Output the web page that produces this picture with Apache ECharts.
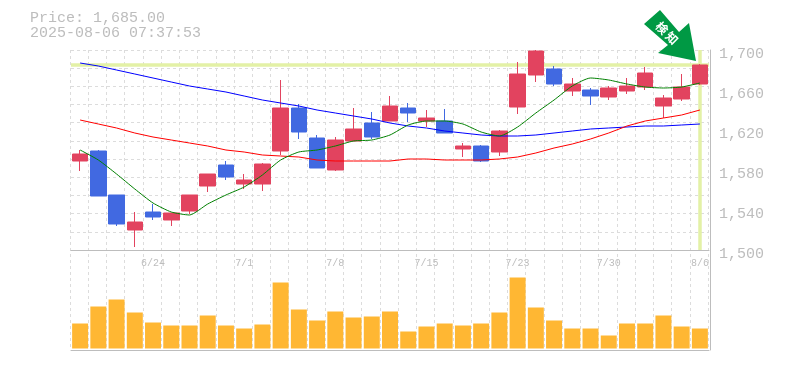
<!DOCTYPE html>
<html><head><meta charset="utf-8">
<style>html,body{margin:0;padding:0;background:#fff}#c{width:785px;height:370px}</style>
<script src="https://cdn.jsdelivr.net/npm/echarts@6/dist/echarts.min.js"></script>
</head><body><div id="c"></div>
<script>
const dates=['6/18','6/19','6/20','6/23','6/24','6/25','6/26','6/27','6/30','7/1','7/2','7/3','7/4','7/7','7/8','7/9','7/10','7/11','7/14','7/15','7/16','7/17','7/18','7/22','7/23','7/24','7/25','7/28','7/29','7/30','7/31','8/1','8/4','8/5','8/6'];
const opens=[1589,1599,1555,1520,1538,1530,1539,1564,1585,1566,1566,1599,1642,1612,1580,1609,1627,1629,1642,1629,1629,1601,1604,1598,1643,1675,1681,1659,1660,1653,1659,1663,1644,1651,1666];
const closes=[1596,1554,1526,1528,1533,1537,1555,1576,1573,1570,1586,1642,1618,1582,1610,1621,1613,1644,1637,1632,1617,1604,1589,1619,1676,1699,1666,1666,1654,1662,1664,1677,1652,1663,1685];
const lows=[1579,1554,1524,1503,1530,1524,1536,1558,1570,1561,1559,1595,1611,1582,1579,1609,1611,1629,1628,1623,1617,1593,1588,1594,1636,1668,1664,1654,1645,1650,1656,1660,1632,1649,1665];
const highs=[1600,1600,1555,1538,1546,1537,1555,1576,1589,1576,1587,1670,1646,1615,1613,1642,1638,1654,1647,1640,1641,1607,1605,1620,1688,1700,1684,1672,1662,1664,1672,1683,1655,1676,1686];
const maShort=[1600,1590,1576,1561,1547,1538,1535,1546,1555,1563,1575,1590,1598,1600,1604,1609,1610,1615,1625,1629,1629,1626,1618,1614,1623,1637,1650,1664,1672,1670,1666,1663,1662,1663,1667];
const maMid=[1630,1626,1622,1617,1613,1610,1607,1604,1600,1598,1595,1594,1593,1590,1589,1589,1589,1589,1591,1591,1590,1590,1590,1591,1593,1597,1602,1606,1611,1617,1624,1629,1632,1635,1640];
const maLong=[1687,1684,1680,1676,1672,1668,1664,1661,1658,1654,1650,1647,1644,1640,1637,1634,1631,1627,1624,1622,1619,1617,1615,1614,1614,1615,1617,1619,1621,1622,1623,1624,1624,1625,1626];
const volumes=[25,42,49,36,26,23,23,33,23,20,24,66,39,28,37,31,32,37,17,22,25,23,25,36,71,41,28,20,20,13,25,25,33,22,20];
const priceNow=1685;
const titleLines=['Price: 1,685.00','2025-08-06 07:37:53'];
const badgeText='検\u2009知';

const GREY='#bdbdbd',GRID='#dcdcdc',YEL='#e3f1a6',FONT='"Liberation Mono",monospace';
const chart=echarts.init(document.getElementById('c'),null,{renderer:'canvas'});
const hide={show:false};
chart.setOption({
 animation:false,backgroundColor:'#fff',
 textStyle:{fontFamily:FONT},
 title:[{text:titleLines.join('\n'),left:30,top:11,padding:0,textStyle:{fontFamily:FONT,fontSize:15,fontWeight:'normal',color:GREY,lineHeight:15}}],
 grid:[
  {left:71,top:50,width:638,height:200},
  {left:71,top:250,width:638,height:100},
  {left:70,top:50,width:638,height:300}
 ],
 xAxis:[
  {type:'category',gridIndex:0,data:dates,boundaryGap:true,
   axisLine:{onZero:false,lineStyle:{color:GREY,width:1}},axisTick:hide,splitLine:hide,
   axisLabel:{show:true,interval:(i)=>i%5===4,margin:8,fontFamily:FONT,fontSize:10,color:GREY,hideOverlap:false}},
  {type:'category',gridIndex:1,data:dates,boundaryGap:true,
   axisLine:{onZero:false,lineStyle:{color:GREY,width:1}},axisTick:hide,axisLabel:hide,splitLine:hide},
  {type:'value',gridIndex:2,min:0,max:35,interval:1,axisLine:hide,axisTick:hide,axisLabel:hide,
   splitLine:{show:true,lineStyle:{color:GRID,type:[3,3],width:1}}}
 ],
 yAxis:[
  {type:'value',gridIndex:0,position:'right',min:1500,max:1700,interval:40,offset:1,
   axisLine:{show:true,lineStyle:{color:GREY,width:1}},axisTick:hide,splitLine:hide,
   axisLabel:{margin:9,fontFamily:FONT,fontSize:15,color:GREY,verticalAlign:'top',lineHeight:8,
    formatter:v=>v.toLocaleString('en-US')}},
  {type:'value',gridIndex:1,position:'right',min:-1.5,max:98.5,offset:1,
   axisLine:{show:true,lineStyle:{color:GREY,width:1}},axisTick:hide,axisLabel:hide,splitLine:hide},
  {type:'value',gridIndex:0,position:'left',min:0,max:11,interval:1,axisLine:hide,axisTick:hide,axisLabel:hide,
   splitLine:{show:true,lineStyle:{color:GRID,type:[3,3],width:1}}},
  {type:'category',gridIndex:2,axisLine:hide,axisTick:hide,axisLabel:hide,splitLine:hide,data:['']}
 ],
 series:[
  {type:'candlestick',xAxisIndex:0,yAxisIndex:0,barWidth:16,z:3,
   data:dates.map((d,i)=>[opens[i],closes[i],lows[i],highs[i]]),
   itemStyle:{color:'#e2435f',color0:'#4169e1',borderColor:'#e2435f',borderColor0:'#4169e1',borderWidth:1},
   markLine:{silent:true,symbol:'none',z:1,label:hide,animation:false,
    lineStyle:{color:YEL,type:'solid',width:3.5},
    data:[{yAxis:priceNow},{xAxis:dates[dates.length-1]}]}},
  {type:'line',xAxisIndex:0,yAxisIndex:0,data:maLong,showSymbol:false,z:4,lineStyle:{color:'#0000ff',width:1}},
  {type:'line',xAxisIndex:0,yAxisIndex:0,data:maMid,showSymbol:false,z:4,lineStyle:{color:'#ff0000',width:1}},
  {type:'line',xAxisIndex:0,yAxisIndex:0,data:maShort,showSymbol:false,smooth:0.2,z:4,lineStyle:{color:'#008000',width:1}},
  {type:'bar',xAxisIndex:1,yAxisIndex:1,data:volumes,barWidth:16,itemStyle:{color:'#ffb733'},z:3}
 ],
 graphic:[
  {type:'polygon',z:20,shape:{points:[[660,10],[679,32],[689,23],[696,61],[658,53],[668,45],[644,24]]},style:{fill:'#009944'}},
  {type:'text',z:21,x:667,y:33,rotation:-Math.PI/4,style:{text:badgeText,fontFamily:'"Noto Sans CJK JP"',fontSize:12,fontWeight:'bold',fill:'#fff',align:'center',verticalAlign:'middle'}}
 ]
});
</script></body></html>
